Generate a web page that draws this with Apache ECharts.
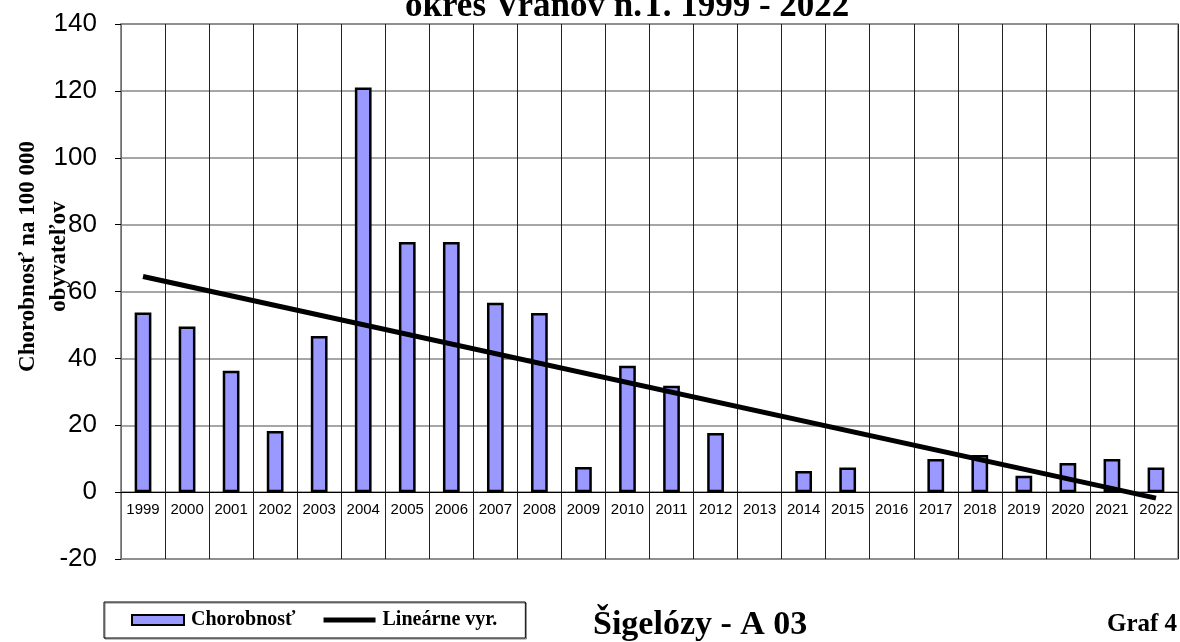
<!DOCTYPE html>
<html>
<head>
<meta charset="utf-8">
<script src="https://cdn.jsdelivr.net/npm/echarts@6/dist/echarts.min.js"></script>
<style>
  html, body { margin: 0; padding: 0; background: #fff; }
  #chart { width: 1180px; height: 642px; }
</style>
</head>
<body>
<div id="chart"></div>
<script>
// roky a chorobnosť na 100 000 obyvateľov
var years = ["1999", "2000", "2001", "2002", "2003", "2004", "2005", "2006", "2007", "2008", "2009", "2010",
  "2011", "2012", "2013", "2014", "2015", "2016", "2017", "2018", "2019", "2020", "2021", "2022"];
var morbidity = [53.7, 49.5, 36.3, 18.3, 46.7, 121.0, 74.8, 74.8, 56.6, 53.6, 7.5, 37.8,
  31.8, 17.7, 0, 6.3, 7.4, 0, 9.9, 11.1, 4.9, 8.7, 9.9, 7.4];
// lineárny trend - len koncové body odčítané z grafu
var trendStart = 64.5;
var trendEnd = -1.8;

var serif = "'Liberation Serif', 'Times New Roman', serif";
var sans = "'Liberation Sans', Arial, sans-serif";

var yMin = -20, yMax = 140;
var gridTop = 24, gridBottom = 83, chartH = 642;
// posun osi x na nulu
var plotH = chartH - gridTop - gridBottom;
var zeroOffset = -plotH * (0 - yMin) / (yMax - yMin);

var trend = years.map(function (y, i) {
  if (i === 0) return trendStart;
  if (i === years.length - 1) return trendEnd;
  return null;
});

// nulové stĺpce sa v origináli nekreslia
var barData = morbidity.map(function (v) {
  return v === 0 ? { value: v, itemStyle: { borderWidth: 0, opacity: 0 } } : v;
});

var myChart = echarts.init(document.getElementById("chart"));

var option = {
  backgroundColor: "#fff",
  animation: false,
  title: [
    {
      text: "okres Vranov n.T. 1999 - 2022",
      left: 400,
      top: -16,
      textStyle: { fontFamily: serif, fontWeight: "bold", fontSize: 35, color: "#000" }
    },
    {
      text: "Šigelózy - A 03",
      left: 588,
      top: 603,
      textStyle: { fontFamily: serif, fontWeight: "bold", fontSize: 34, color: "#000" }
    },
    {
      text: "Graf 4",
      left: 1102,
      top: 607,
      textStyle: { fontFamily: serif, fontWeight: "bold", fontSize: 25, color: "#000" }
    }
  ],
  legend: {
    left: 104,
    top: 602,
    padding: [8, 28, 8, 27],
    itemGap: 28,
    itemWidth: 52,
    itemHeight: 10,
    borderColor: "#000",
    borderWidth: 1,
    shadowColor: "rgba(0,0,0,0.5)",
    shadowOffsetX: 1,
    shadowOffsetY: 1,
    textStyle: { fontFamily: serif, fontWeight: "bold", fontSize: 20, color: "#000", padding: [0, 0, 0, 2] },
    data: [
      { name: "Chorobnosť", icon: "rect" },
      { name: "Lineárne vyr.", icon: "path://M0,0 L52,0 L52,5 L0,5 Z" }
    ]
  },
  grid: {
    left: 121,
    right: 2,
    top: gridTop,
    bottom: gridBottom,
    containLabel: false,
    outerBoundsMode: "none",
    show: true,
    borderColor: "#888",
    borderWidth: 1.5
  },
  xAxis: {
    type: "category",
    data: years,
    offset: zeroOffset,
    axisLine: { onZero: false, lineStyle: { color: "#000", width: 1 } },
    axisTick: { show: false },
    axisLabel: { fontFamily: sans, fontSize: 15, color: "#000", margin: 10, interval: 0 },
    splitLine: { show: true, lineStyle: { color: "#222", width: 1 } }
  },
  yAxis: {
    type: "value",
    min: yMin,
    max: yMax,
    interval: 20,
    name: "Chorobnosť na 100 000\nobyvateľov",
    nameLocation: "middle",
    nameGap: 46,
    nameMoveOverlap: false,
    nameTextStyle: {
      fontFamily: serif, fontWeight: "bold", fontSize: 23, color: "#000", lineHeight: 31,
      padding: [0, 0, 0, 70]
    },
    axisLine: { show: true, lineStyle: { color: "#888", width: 1.5 } },
    axisTick: { show: true, length: 6, lineStyle: { color: "#000" } },
    axisLabel: { fontFamily: sans, fontSize: 26, color: "#000", margin: 24 },
    splitLine: { show: true, lineStyle: { color: "#888", width: 1.5 } }
  },
  series: [
    {
      name: "Chorobnosť",
      type: "bar",
      barWidth: "38%",
      data: barData,
      itemStyle: { color: "#9999FF", borderColor: "#000", borderWidth: 2.5 }
    },
    {
      name: "Lineárne vyr.",
      type: "line",
      data: trend,
      connectNulls: true,
      symbol: "none",
      lineStyle: { color: "#000", width: 5 },
      itemStyle: { color: "#000" },
      z: 5
    }
  ]
};

myChart.setOption(option);

window.addEventListener("resize", function () {
  myChart.resize();
});
</script>
</body>
</html>
